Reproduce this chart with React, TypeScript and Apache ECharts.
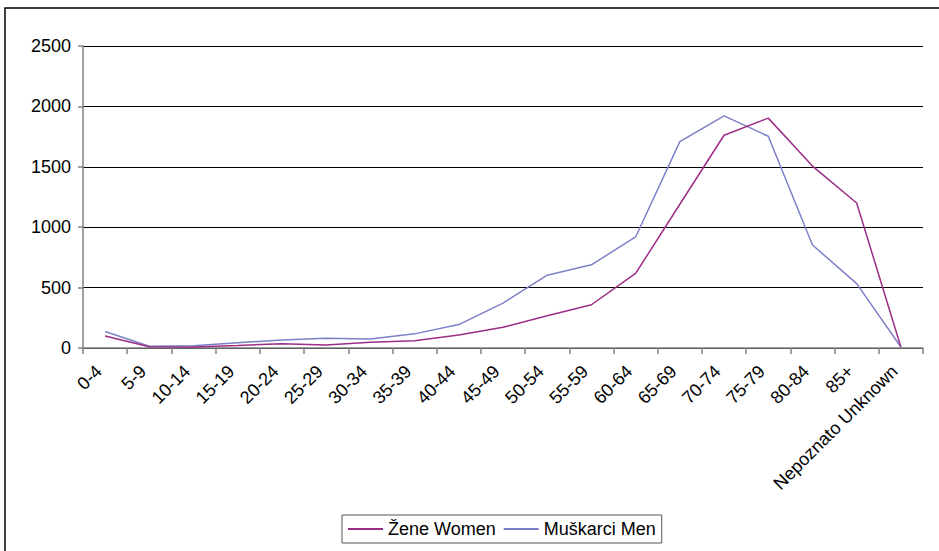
import React, { useEffect, useRef } from "react";
import * as echarts from "echarts";

const categories = [
  "0-4", "5-9", "10-14", "15-19", "20-24", "25-29", "30-34", "35-39", "40-44",
  "45-49", "50-54", "55-59", "60-64", "65-69", "70-74", "75-79", "80-84", "85+",
  "Nepoznato Unknown",
];
const women = [100, 10, 8, 20, 36, 25, 47, 61, 108, 172, 267, 358, 617, 1190, 1761, 1903, 1506, 1200, 8];
const men = [136, 15, 18, 44, 67, 80, 75, 117, 194, 372, 603, 689, 919, 1708, 1922, 1753, 853, 533, 8];
const seriesNames = ["Žene Women", "Muškarci Men"];
const yTicks = { min: 0, max: 2500, interval: 500 };

const FONT = "'Liberation Sans', Arial, sans-serif";
const WOMEN_COLOR = "#9b2d86";
const MEN_COLOR = "#7c80c6";

export default function App() {
  const ref = useRef<HTMLDivElement>(null);
  useEffect(() => {
    if (!ref.current) return;
    const chart = echarts.init(ref.current, undefined, { renderer: "svg" });
    chart.setOption({
      animation: false,
      backgroundColor: "#ffffff",
      textStyle: { fontFamily: FONT },
      graphic: [
        {
          type: "rect",
          shape: { x: 5, y: 8, width: 2000, height: 2000 },
          style: { fill: "none", stroke: "#000", lineWidth: 1.5 },
          silent: true,
        },
      ],
      grid: { left: 83, right: 16, top: 46, bottom: 203, containLabel: false },
      legend: {
        left: 342,
        top: 515,
        padding: [5, 6, 5, 6],
        borderColor: "#555",
        borderWidth: 1,
        itemWidth: 35,
        itemHeight: 2,
        itemGap: 8,
        icon: "rect",
        textStyle: { fontFamily: FONT, fontSize: 18, color: "#000" },
        data: seriesNames,
      },
      xAxis: {
        type: "category",
        data: categories,
        boundaryGap: true,
        axisLine: { lineStyle: { color: "#808080", width: 1.5 } },
        axisTick: { show: true, length: 6, lineStyle: { color: "#808080", width: 1.5 }, alignWithLabel: false },
        axisLabel: {
          rotate: 45,
          interval: 0,
          margin: 14,
          padding: [0, 9, 0, 0],
          fontFamily: FONT,
          fontSize: 18,
          color: "#000",
        },
        splitLine: { show: false },
      },
      yAxis: {
        type: "value",
        min: yTicks.min,
        max: yTicks.max,
        interval: yTicks.interval,
        axisLine: { show: true, lineStyle: { color: "#808080", width: 1.5 } },
        axisTick: { show: true, length: 5, lineStyle: { color: "#808080", width: 1.5 } },
        axisLabel: {
          margin: 12,
          fontFamily: FONT,
          fontSize: 18,
          color: "#000",
          formatter: (v: number) => String(v),
        },
        splitLine: { show: true, lineStyle: { color: "#000", width: 1 } },
      },
      series: [
        {
          name: seriesNames[0],
          type: "line",
          data: women,
          symbol: "none",
          lineStyle: { color: WOMEN_COLOR, width: 1.5 },
          itemStyle: { color: WOMEN_COLOR },
          z: 3,
        },
        {
          name: seriesNames[1],
          type: "line",
          data: men,
          symbol: "none",
          lineStyle: { color: MEN_COLOR, width: 1.5 },
          itemStyle: { color: MEN_COLOR },
          z: 2,
        },
      ],
    });
    return () => chart.dispose();
  }, []);
  return (
    <div
      ref={ref}
      style={{ position: "absolute", left: 0, top: 0, width: 939, height: 551 }}
    />
  );
}
